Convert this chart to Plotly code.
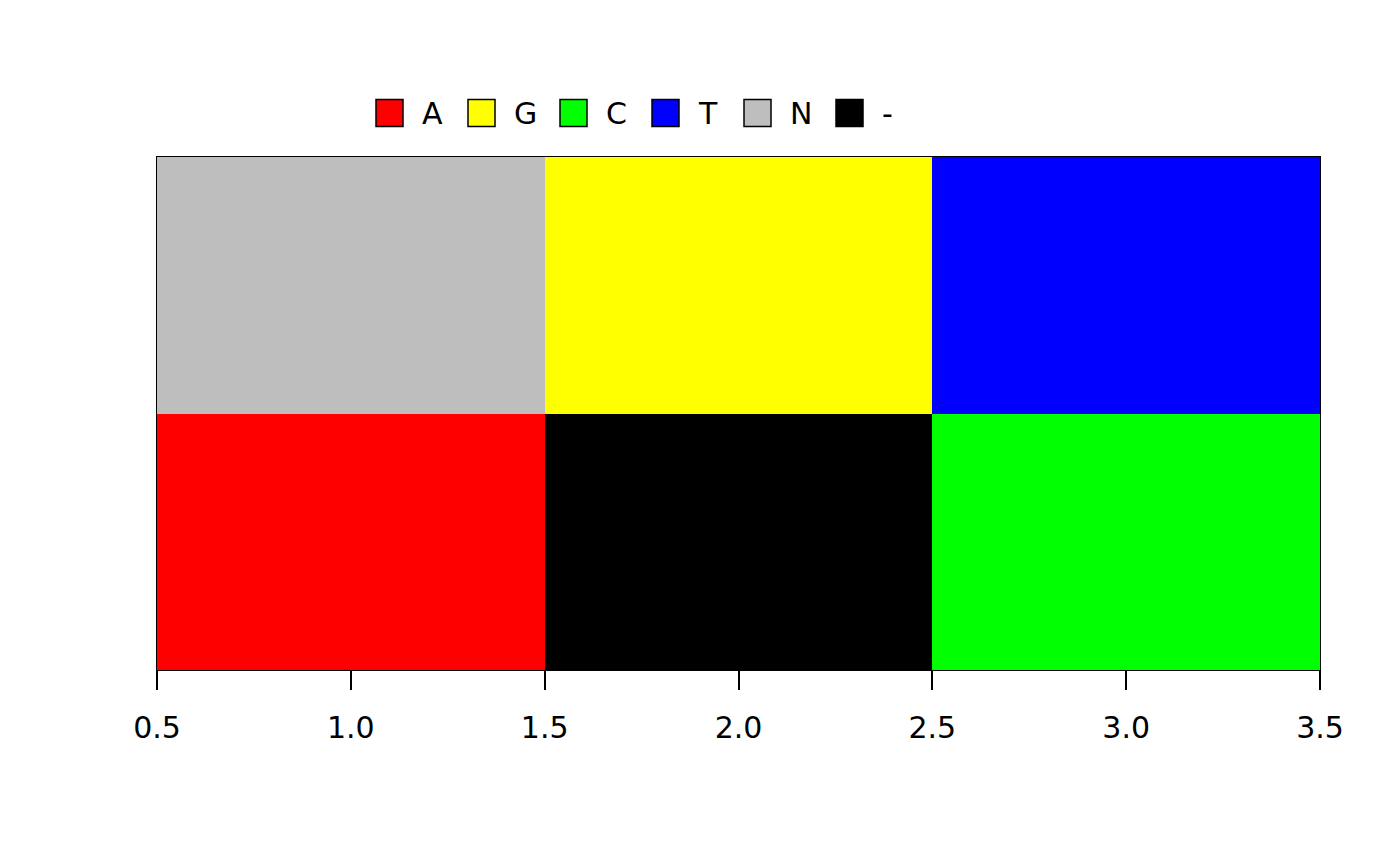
import plotly.graph_objects as go

# data
bases = ["A", "G", "C", "T", "N", "-"]
base_colors = ["#FF0000", "#FFFF00", "#00FF00", "#0000FF", "#BEBEBE", "#000000"]
x_pos = [1, 2, 3]
y_pos = [1, 2]
grid = [["A", "-", "C"],   # row 1 (bottom)
        ["N", "G", "T"]]   # row 2 (top)
tick_vals = [0.5, 1.0, 1.5, 2.0, 2.5, 3.0, 3.5]

W, H = 1400, 866
L, R, T, B = 157, 80, 157, 196
pw, ph = W - L - R, H - T - B

z = [[bases.index(v) for v in row] for row in grid]
n = len(bases)
cs = []
for i, c in enumerate(base_colors):
    cs.append([i / n, c])
    cs.append([(i + 1) / n, c])

fig = go.Figure(go.Heatmap(
    x=x_pos, y=y_pos, z=z, zmin=-0.5, zmax=n - 0.5,
    colorscale=cs, showscale=False, hoverinfo="skip"))

font = dict(family="DejaVu Sans", size=30, color="black")

shapes, annotations = [], []
sq = 27
x0 = 376
step = 92
cy = 113
for i, (b, c) in enumerate(zip(bases, base_colors)):
    px = x0 + i * step
    shapes.append(dict(type="rect", xref="paper", yref="paper",
                       x0=(px - L) / pw, x1=(px + sq - L) / pw,
                       y0=(H - B - (cy + sq / 2)) / ph, y1=(H - B - (cy - sq / 2)) / ph,
                       fillcolor=c, line=dict(color="black", width=1.5)))
    annotations.append(dict(xref="paper", yref="paper", x=(px + 44 - L) / pw,
                            y=(H - B - cy) / ph, text=b, showarrow=False,
                            xanchor="left", yanchor="middle", font=font))

fig.update_layout(
    width=W, height=H, margin=dict(l=L, r=R, t=T, b=B),
    paper_bgcolor="white", plot_bgcolor="white",
    shapes=shapes, annotations=annotations,
    xaxis=dict(range=[0.5, 3.5], tickvals=tick_vals, tickformat=".1f",
               ticks="outside", ticklen=19, tickwidth=1.5, tickcolor="black",
               ticklabelstandoff=12,
               showline=True, linecolor="black", linewidth=1, mirror=True,
               showgrid=False, zeroline=False, tickfont=font),
    yaxis=dict(range=[0.5, 2.5], showticklabels=False, ticks="",
               showline=True, linecolor="black", linewidth=1, mirror=True,
               showgrid=False, zeroline=False),
)
fig.write_html("out.html")
